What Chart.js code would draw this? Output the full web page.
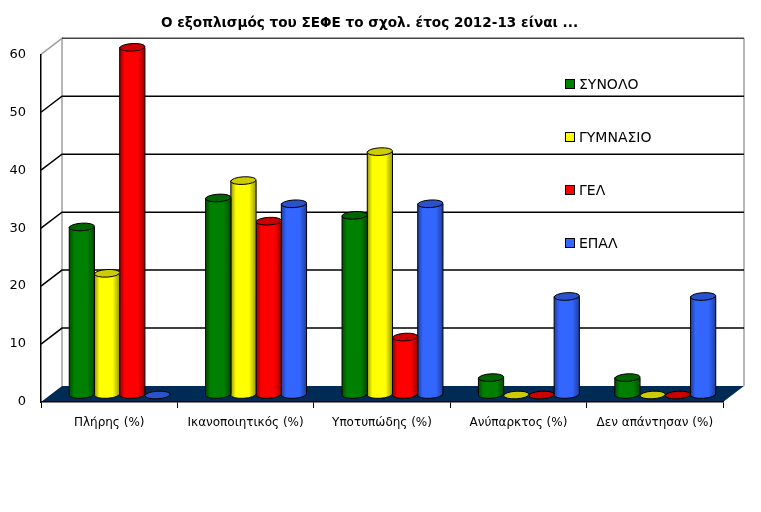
<!DOCTYPE html>
<html>
<head>
<meta charset="utf-8">
<style>
    html, body { margin: 0; padding: 0; background: #fff; }
    canvas { display: block; }
</style>
<script src="https://cdn.jsdelivr.net/npm/chart.js@4"></script>
</head>
<body>
<canvas id="chart" width="761" height="512"></canvas>
<script>
const categories = ['Πλήρης (%)', 'Ικανοποιητικός (%)', 'Υποτυπώδης (%)', 'Ανύπαρκτος (%)', 'Δεν απάντησαν (%)'];
const seriesNames = ['ΣΥΝΟΛΟ', 'ΓΥΜΝΑΣΙΟ', 'ΓΕΛ', 'ΕΠΑΛ'];
const synolo = [29, 34, 31, 3, 3];
const gymnasio = [21, 37, 42, 0, 0];
const gel = [60, 30, 10, 0, 0];
const epal = [0, 33, 33, 17, 17];
const yTicks = [0, 10, 20, 30, 40, 50, 60];
const titleText = 'Ο εξοπλισμός του ΣΕΦΕ το σχολ. έτος 2012-13 είναι ...';

const FONT = '"DejaVu Sans"';

// body = bright middle, edge = dark sides, cap = top ellipse
const colors = [
    { body: '#008000', edge: '#004d00', cap: '#006400' },
    { body: '#ffff00', edge: '#999900', cap: '#cccc00' },
    { body: '#ff0000', edge: '#990000', cap: '#cc0000' },
    { body: '#3366ff', edge: '#1f3d99', cap: '#2952cc' }
];

// 3D look: back wall offset and the plane the bars stand on
const WALL_DX = 21, WALL_DY = -16;
const BAR_DX = 10.5, BAR_DY = -7;
const CAP_RY = 3.8, CAP_TILT = -0.06;

const wallPlugin = {
    id: 'wall',
    afterLayout(chart) {
        // tick labels get clipped to the scale box, so let it reach the canvas edge
        chart.scales.y.left = 0;
    },
    beforeDraw(chart) {
        const ctx = chart.ctx;
        const { left, right } = chart.chartArea;
        const y = chart.scales.y;
        const y0 = y.getPixelForValue(0);
        const yTop = y.getPixelForValue(60);

        ctx.save();
        // floor
        ctx.fillStyle = '#002b55';
        ctx.beginPath();
        ctx.moveTo(left, y0);
        ctx.lineTo(left + WALL_DX, y0 + WALL_DY);
        ctx.lineTo(right + WALL_DX, y0 + WALL_DY);
        ctx.lineTo(right, y0);
        ctx.closePath();
        ctx.fill();

        // wall edges
        ctx.strokeStyle = '#a0a0a0';
        ctx.lineWidth = 1.5;
        ctx.beginPath();
        ctx.moveTo(left, yTop);
        ctx.lineTo(left + WALL_DX, yTop + WALL_DY);
        ctx.lineTo(left + WALL_DX, y0 + WALL_DY);
        ctx.moveTo(right + WALL_DX, yTop + WALL_DY);
        ctx.lineTo(right + WALL_DX, y0 + WALL_DY);
        ctx.stroke();

        // grid lines, side wall then back wall
        yTicks.forEach(function(v) {
            if (v === 0) return;
            const py = y.getPixelForValue(v);
            ctx.strokeStyle = v === 60 ? '#444' : '#000';
            ctx.beginPath();
            if (v !== 60) ctx.moveTo(left, py);
            else ctx.moveTo(left + WALL_DX, py + WALL_DY);
            ctx.lineTo(left + WALL_DX, py + WALL_DY);
            ctx.lineTo(right + WALL_DX, py + WALL_DY);
            ctx.stroke();
        });
        ctx.restore();
    },
    beforeDatasetDraw(chart, args) {
        const ctx = chart.ctx;
        const c = colors[args.index];
        ctx.save();
        args.meta.data.forEach(function(bar) {
            const rx = bar.width / 2;
            const cx = bar.x + BAR_DX;
            const top = bar.y + BAR_DY;
            const bottom = bar.base + BAR_DY;
            ctx.lineWidth = 1;
            ctx.strokeStyle = '#000';

            if (bottom - top > 0.5) {
                const g = ctx.createLinearGradient(cx - rx, 0, cx + rx, 0);
                g.addColorStop(0, c.edge);
                g.addColorStop(0.2, c.body);
                g.addColorStop(0.72, c.body);
                g.addColorStop(1, c.edge);
                ctx.fillStyle = g;
                ctx.beginPath();
                ctx.moveTo(cx - rx, top);
                ctx.lineTo(cx - rx, bottom);
                ctx.ellipse(cx, bottom, rx, CAP_RY, CAP_TILT, Math.PI, 0, true);
                ctx.lineTo(cx + rx, top);
                ctx.closePath();
                ctx.fill();
                ctx.stroke();
            }
            ctx.fillStyle = c.cap;
            ctx.beginPath();
            ctx.ellipse(cx, top, rx, CAP_RY, CAP_TILT, 0, Math.PI * 2);
            ctx.fill();
            ctx.stroke();
        });
        ctx.restore();
        return false;
    },
    afterDraw(chart) {
        // legend sits inside the plot, so it is drawn here
        const ctx = chart.ctx;
        ctx.save();
        ctx.font = '14px ' + FONT;
        ctx.textBaseline = 'middle';
        chart.data.datasets.forEach(function(ds, i) {
            const ly = 84 + i * 53;
            ctx.fillStyle = colors[i].body;
            ctx.strokeStyle = '#000';
            ctx.lineWidth = 1;
            ctx.fillRect(566, ly - 4, 8, 8);
            ctx.strokeRect(565.5, ly - 4.5, 9, 9);
            ctx.fillStyle = '#000';
            ctx.fillText(ds.label, 579, ly + 1);
        });
        ctx.restore();
    }
};

new Chart(document.getElementById('chart'), {
    type: 'bar',
    data: {
        labels: categories,
        datasets: [
            { label: seriesNames[0], data: synolo },
            { label: seriesNames[1], data: gymnasio },
            { label: seriesNames[2], data: gel },
            { label: seriesNames[3], data: epal }
        ]
    },
    options: {
        responsive: false,
        animation: false,
        categoryPercentage: 0.74,
        barPercentage: 1,
        layout: { padding: { left: 16, right: 38, top: 0, bottom: 0 } },
        scales: {
            x: {
                afterFit: function(scale) { scale.height = 110; },
                grid: { drawOnChartArea: false, color: '#000', tickLength: 6, offset: true },
                border: { color: '#000', width: 1.5 },
                ticks: { color: '#000', font: { family: FONT, size: 12 }, padding: 8, maxRotation: 0, autoSkip: false }
            },
            y: {
                min: 0,
                max: 60,
                afterFit: function(scale) { scale.width = 25; },
                afterBuildTicks: function(scale) {
                    scale.ticks = yTicks.map(function(v) { return { value: v }; });
                },
                grid: { drawOnChartArea: false, drawTicks: false },
                border: { color: '#000', width: 1.5 },
                ticks: { color: '#000', font: { family: FONT, size: 13 }, padding: 15 }
            }
        },
        plugins: {
            legend: { display: false },
            tooltip: { enabled: false },
            title: {
                display: true,
                text: titleText,
                color: '#000',
                font: { family: FONT, size: 13.6, weight: 'bold' },
                padding: { top: 15, bottom: 23 }
            }
        }
    },
    plugins: [wallPlugin]
});
</script>
</body>
</html>
